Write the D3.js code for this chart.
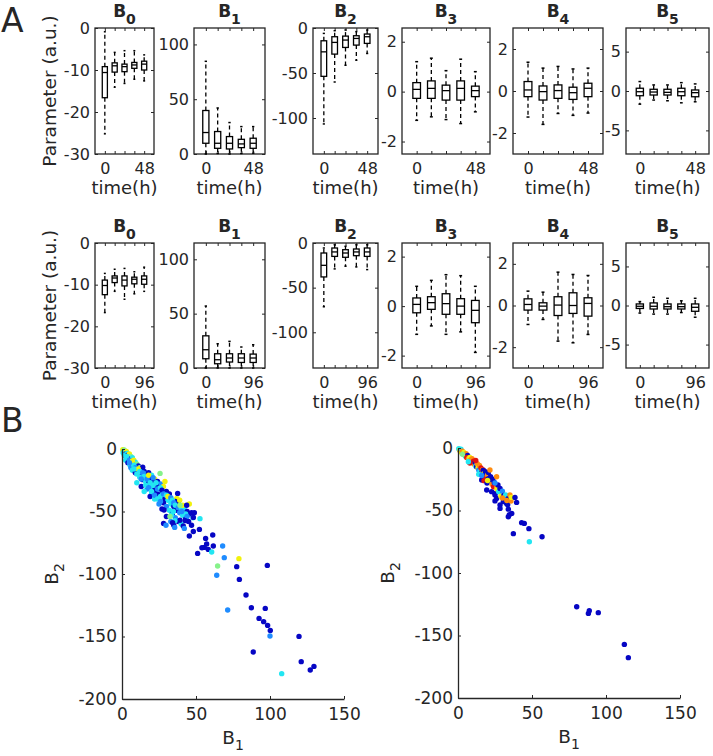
<!DOCTYPE html>
<html>
<head>
<meta charset="utf-8">
<script src="https://cdn.jsdelivr.net/npm/d3@7"></script>
<style>
  body { margin: 0; background: #fff; }
  text { font-family: "DejaVu Sans", sans-serif; fill: #262626; }
</style>
</head>
<body>
<svg id="fig" width="713" height="756"></svg>
<script>
// ---------- data ----------
var params = ["0", "1", "2", "3", "4", "5"];
var timeLabels48 = ["0", "", "", "", "48"];
var timeLabels96 = ["0", "", "", "", "96"];
var yDomains = [[-30, 0], [0, 115], [-140, 0], [-2.5, 2.55], [-3, 3], [-8, 8]];
var yTicks = [[-30, -20, -10, 0], [0, 50, 100], [-100, -50, 0], [-2, 0, 2], [-2, 0, 2], [-5, 0, 5]];

// box stats per parameter, 5 time points each: [low whisker, q1, median, q3, high whisker]
var boxes48 = [
  [[-25.2, -16.6, -10.6, -9.2, -0.9], [-14.1, -10.5, -9.0, -8.3, -5.8], [-13.2, -10.4, -9.2, -8.6, -5.4], [-12.2, -9.6, -8.8, -8.2, -5.4], [-12.6, -10, -8.6, -7.9, -6.4]],
  [[0, 9.8, 19.6, 39.7, 84.6], [0.5, 5.2, 9.8, 20.5, 42], [0, 4.6, 9.8, 15.9, 28.7], [0.5, 5.8, 9.2, 13.4, 25], [0.8, 5.2, 9.8, 14.4, 25]],
  [[-106.6, -53.7, -26.5, -14.2, -6], [-60, -29, -16, -9.7, -3], [-41.4, -21.6, -13.4, -9, -2.2], [-35.8, -19, -11.6, -8.6, -4], [-28.3, -17.1, -9.7, -6.7, -2.2]],
  [[-1.15, -0.27, 0.09, 0.36, 1.2], [-1.01, -0.27, 0.13, 0.43, 1.34], [-1.12, -0.34, 0.04, 0.26, 0.84], [-1.28, -0.34, 0.13, 0.43, 1.3], [-0.81, -0.2, 0.04, 0.22, 0.8]],
  [[-1.24, -0.27, 0.05, 0.45, 1.37], [-1.59, -0.43, -0.03, 0.24, 1.09], [-1.07, -0.35, 0.02, 0.29, 1.17], [-1.16, -0.4, -0.08, 0.18, 1.05], [-1.05, -0.27, 0.13, 0.37, 1.09]],
  [[-1.67, -0.6, -0.09, 0.35, 1.2], [-1.15, -0.51, -0.13, 0.22, 0.77], [-1.24, -0.51, -0.17, 0.22, 0.77], [-1.5, -0.6, -0.09, 0.35, 1.06], [-1.37, -0.73, -0.21, 0.13, 0.9]]
];
var boxes96 = [
  [[-16.7, -12.4, -10.2, -8.9, -7.3], [-11.6, -9.5, -8.4, -7.9, -6.3], [-13.5, -10.3, -8.9, -7.9, -6.1], [-12.2, -9.8, -8.7, -8.2, -6.9], [-11.6, -9.9, -8.7, -7.9, -5.8]],
  [[0, 8.5, 16.8, 29.6, 57], [0, 3.9, 7.6, 13.1, 22.3], [0, 5.5, 9.2, 13.1, 24.5], [0, 5.1, 9.2, 13.1, 19.3], [0, 5.1, 9.2, 12.8, 21.4]],
  [[-71.4, -38, -25, -11.2, -5.6], [-29, -15, -10, -5.6, -1.9], [-26, -16, -11.2, -7.5, -3.7], [-26.8, -14.2, -10, -6.7, -1.9], [-29.8, -15, -10, -5.6, -1.9]],
  [[-1.14, -0.27, 0.07, 0.33, 0.8], [-0.8, -0.13, 0.14, 0.38, 1.04], [-1.14, -0.33, 0.1, 0.5, 1.27], [-1.04, -0.33, 0, 0.3, 1.23], [-1.87, -0.67, -0.17, 0.23, 0.8]],
  [[-0.91, -0.22, 0.05, 0.32, 0.69], [-0.67, -0.22, -0.03, 0.13, 0.64], [-1.71, -0.48, 0.02, 0.42, 1.6], [-1.79, -0.38, 0, 0.61, 1.49], [-1.39, -0.51, 0.1, 0.37, 1.44]],
  [[-0.97, -0.38, -0.1, 0.2, 0.5], [-1.1, -0.45, -0.1, 0.33, 1.05], [-1.1, -0.45, -0.15, 0.2, 0.92], [-0.9, -0.45, -0.15, 0.2, 0.6], [-1.5, -0.74, -0.23, 0.2, 0.92]]
];

// scatter B1 vs B2: [B1, B2, colour class]
var scatterLeft = [
  [0.5,-0.5,4],[1,-1.5,4],[1.5,-0.8,3],[2,-2.5,2],[0.8,-3,2],[3,-2,4],[2.5,-4,0],[3.5,-3.5,2],[1.5,-5,2],[4,-5,0],
  [5,-4,4],[4.5,-6.5,2],[3,-7,0],[6,-6,3],[5.5,-8,0],[7,-7,2],[2.5,-9,2],[6.5,-10,0],[8,-9,4],[4,-11,0],
  [9,-10.5,2],[7.5,-12,0],[5.5,-13,2],[10,-12,3],[11,-13.5,0],[8.5,-14,0],[6,-15,1],[12,-15,3],[10,-16,0],[13,-16.5,2],
  [14,-14.5,0],[7,-17,2],[11.5,-18,0],[9,-19,0],[15,-18,0],[16,-20,1],[13.5,-21,0],[25.7,-19.5,3],[18,-19,0],[20,-21,2],
  [17,-22,0],[12,-22.5,2],[19,-24,0],[14,-24.5,0],[22,-24,4],[21,-26,0],[16,-26,2],[24,-26,0],[18,-27.5,0],[10,-27,2],
  [26,-28,1],[23,-29,0],[13,-30,0],[20,-30,2],[28,-30,4],[25,-31,0],[17,-32,1],[29,-26,4],[22,-33,0],[30,-34,0],
  [15,-34,2],[27,-35,2],[24,-36,0],[20,-36,2],[32,-36,0],[19,-38,0],[26,-38,2],[37,-39.5,4],[29,-40,0],[22,-40,2],
  [31,-41,2],[36,-42,0],[28,-43,0],[25,-44,1],[33,-44,2],[38,-43,0],[30,-46,1],[35,-46,0],[39,-41,4],[27,-48,0],
  [32,-49,2],[37,-49,0],[42,-48,2],[44,-50,0],[39,-51,1],[34,-52,0],[46,-52,0],[41,-53,2],[30,-54,0],[36,-55,1],
  [43,-56,0],[48,-55,2],[38,-58,0],[33,-58,1],[45,-58,0],[40,-60,2],[35,-61,0],[47,-61,0],
  [3,-6,2],[5,-9,1],[7,-9.5,4],[8,-13,2],[9,-15,1],[11,-16,4],[12,-18,2],[14,-19,1],[15,-22,2],[17,-24,1],
  [18,-21,4],[19,-27,2],[21,-23,1],[21,-29,2],[23,-27,2],[24,-32,1],[26,-31,2],[27,-33,0],[28,-36,1],[30,-37,2],
  [31,-38,4],[33,-39,1],[34,-41,2],[35,-43,1],[36,-45,2],[38,-47,1],[40,-47,2],[41,-45,4],[43,-52,2],[44,-54,1],
  [10,-20,2],[13,-24,1],[16,-29,2],[18,-31,1],[20,-34,2],[22,-37,1],[24,-40,2],[26,-42,1],[5,-11,1],[8,-16,2],
  [37.6,-35.5,0],[45.5,-44,4],[43.7,-45,0],[39.2,-45,3],[28.4,-48.8,0],[34.7,-50,2],[33.5,-52.8,2],[40.3,-50,1],
  [47,-51,0],[48.9,-51,0],[48.2,-54.7,0],[52.7,-55.7,2],[42.8,-57.3,0],[39.2,-57,0],[35.8,-57.3,2],[32.4,-54,3],
  [34.2,-59,0],[28.1,-59.5,0],[29.7,-61,1],[35.6,-62.7,1],[41.4,-61.6,0],[42.1,-63.5,1],[45.5,-69.6,0],[48.2,-66,0],
  [52.3,-64.3,0],[56.5,-71.5,0],[61.3,-68.8,0],[68,-77.6,1],[61.7,-77.6,0],[57.2,-76,0],[55.6,-78.7,0],[54,-79,0],
  [58.3,-80.3,0],[60.6,-82.4,2],[51.1,-83.5,0],[69.1,-86.9,1],[79,-87.7,4],[64.6,-93.6,3],[77.5,-94.1,0],[98.2,-93.1,0],
  [64,-101,1],[79.3,-104.3,0],[83.8,-116.8,0],[87.4,-127,0],[96.8,-127.5,0],[71.4,-128.8,1],[92.6,-135.5,0],[95.7,-138.1,0],
  [98.4,-141.1,0],[100.2,-145.1,0],[100,-149.6,1],[119.6,-149.9,0],[88.7,-162.4,0],[121.1,-170.1,0],[129.7,-173.9,0],
  [127.2,-176.8,0],[107.9,-179.7,2]
];
var scatterRight = [
  [0.5,-0.5,2],[1,-1.5,3],[1.5,-2.5,5],[2,-1,2],[2.5,-3.5,4],[3,-2.5,5],[3.5,-4.5,6],[4,-3.5,4],[4.5,-5.5,5],[5,-6.5,2],
  [5.5,-4.5,5],[6,-7.5,4],[6.5,-6,0],[5.9,-7.5,6],[7,-8.5,5],[7.5,-10,2],[8,-7.5,4],[8.5,-9.5,5],[9,-11,0],[9.5,-8.5,5],
  [10,-12,4],[10.5,-10.5,6],[11,-13,5],[11.5,-11.5,0],[12,-14.5,2],[12.6,-14.9,0],[13,-12.5,5],[13.5,-16,4],[14,-17.5,1],[14.5,-14,5],
  [15,-18.5,2],[15.5,-16,6],[16,-19.5,0],[16,-25.6,0],[16.5,-17.5,5],[17.1,-17.6,6],[17,-18,0],[17.5,-20.5,4],[18,-22,2],[18.2,-22,0],
  [18.5,-19,0],[19,-23.5,6],[17.6,-26.1,6],[19.4,-33.6,0],[19.6,-28,0],[20,-21.5,5],[20.5,-19.5,0],[20.5,-24.5,0],[21,-26,2],[21.6,-17.6,5],
  [22,-23,0],[22.7,-34.9,0],[22.8,-27,0],[23,-29,5],[23.5,-25,0],[24,-31,6],[24.5,-27.5,0],[25,-42.3,0],[25,-36.3,0],[25,-37.6,0],
  [26.1,-23,5],[26.1,-31.7,5],[26.1,-40.3,0],[26.5,-33,4],[27,-29.5,0],[27.5,-35,2],[28.4,-32.3,0],[28.4,-45.6,0],[28.4,-48.3,0],[29,-38.5,4],
  [30,-34.5,1],[30.6,-42.9,0],[31,-38,0],[32.2,-37.6,2],[32.9,-44.5,0],[33.6,-45.3,0],[34,-40.3,0],[34,-48.9,0],[34,-55,0],[34.7,-53.4,0],
  [35.1,-37.6,5],[35.8,-42.4,5],[36,-39.5,4],[36.3,-52.3,0],[37.4,-68.5,0],[38.5,-39.5,0],[39.6,-43.5,0],[43,-59.7,0],[44.8,-60.3,0],[47.9,-64.5,0],
  [48.2,-75,2],[56.8,-71,0],[80.2,-127,0],[88.7,-130.1,0],[88.1,-132.3,0],[94.8,-131.7,0],[112.4,-157.1,0],[115.1,-167.7,0],
  [3,-5,3],[8,-12,6],[12,-10,6],[20,-26,4],[30,-40,5],[33,-42,5],[14,-21,2],[7,-11,2],[16,-22,1],[25,-28,1]
];

// ---------- layout / style ----------
var colLeft = [95, 194, 313, 402, 513, 626];
var colRight = [154, 265, 378, 490, 603, 709];
var rowTop = [28, 243];
var rowBottom = [154, 368];
var jet = ["#0606c4", "#1f8cff", "#22e6f2", "#86f28a", "#f2f20c", "#ff8c10", "#e21212"];
var axisColor = "#262626";
var plain = function (d) { return String(d); };  // hyphen minus like the original

var svg = d3.select("#fig");
svg.append("rect").attr("width", 713).attr("height", 756).attr("fill", "#fff");

function styleAxis(g, fs) {
  g.select(".domain").remove();
  g.selectAll(".tick line").attr("stroke", axisColor).attr("stroke-width", 1);
  g.selectAll(".tick text").attr("font-size", fs).attr("fill", axisColor)
    .attr("font-family", "DejaVu Sans, sans-serif");
}

function boxPanel(row, k, stats, xLabels) {
  var x = d3.scaleLinear().domain([0, 6]).range([colLeft[k], colRight[k]]);
  var y = d3.scaleLinear().domain(yDomains[k]).range([rowBottom[row], rowTop[row]]);
  var g = svg.append("g");

  g.append("g").attr("transform", "translate(" + colLeft[k] + ",0)")
    .call(d3.axisLeft(y).tickValues(yTicks[k]).tickSize(-3).tickPadding(5).tickFormat(plain))
    .call(styleAxis, 16);
  g.append("g").attr("transform", "translate(" + colRight[k] + ",0)")
    .call(d3.axisRight(y).tickValues(yTicks[k]).tickSize(-3).tickFormat(""))
    .call(styleAxis, 16);
  g.append("g").attr("transform", "translate(0," + rowBottom[row] + ")")
    .call(d3.axisBottom(x).tickValues([1, 2, 3, 4, 5]).tickSize(-3).tickPadding(9)
      .tickFormat(function (d, i) { return xLabels[i]; }))
    .call(styleAxis, 16);
  g.append("g").attr("transform", "translate(0," + rowTop[row] + ")")
    .call(d3.axisTop(x).tickValues([1, 2, 3, 4, 5]).tickSize(-3).tickFormat(""))
    .call(styleAxis, 16);

  g.append("rect")
    .attr("x", colLeft[k]).attr("y", rowTop[row])
    .attr("width", colRight[k] - colLeft[k]).attr("height", rowBottom[row] - rowTop[row])
    .attr("fill", "none").attr("stroke", axisColor).attr("stroke-width", 1.3);

  var bw = 0.26, cw = 0.1;
  var b = g.selectAll("g.box").data(stats).enter().append("g").attr("class", "box");
  // whiskers
  b.append("line")
    .attr("x1", function (d, i) { return x(i + 1); }).attr("x2", function (d, i) { return x(i + 1); })
    .attr("y1", function (d) { return y(d[3]); }).attr("y2", function (d) { return y(d[4]); })
    .attr("stroke", "#000").attr("stroke-width", 1.3).attr("stroke-dasharray", "4,3");
  b.append("line")
    .attr("x1", function (d, i) { return x(i + 1); }).attr("x2", function (d, i) { return x(i + 1); })
    .attr("y1", function (d) { return y(d[1]); }).attr("y2", function (d) { return y(d[0]); })
    .attr("stroke", "#000").attr("stroke-width", 1.3).attr("stroke-dasharray", "4,3");
  // caps
  [0, 4].forEach(function (j) {
    b.append("line")
      .attr("x1", function (d, i) { return x(i + 1 - cw); }).attr("x2", function (d, i) { return x(i + 1 + cw); })
      .attr("y1", function (d) { return y(d[j]); }).attr("y2", function (d) { return y(d[j]); })
      .attr("stroke", "#000").attr("stroke-width", 1.5);
  });
  // box
  b.append("rect")
    .attr("x", function (d, i) { return x(i + 1 - bw); })
    .attr("width", x(1 + bw) - x(1 - bw))
    .attr("y", function (d) { return y(d[3]); })
    .attr("height", function (d) { return y(d[1]) - y(d[3]); })
    .attr("fill", "none").attr("stroke", "#000").attr("stroke-width", 1.3);
  // median
  b.append("line")
    .attr("x1", function (d, i) { return x(i + 1 - bw); }).attr("x2", function (d, i) { return x(i + 1 + bw); })
    .attr("y1", function (d) { return y(d[2]); }).attr("y2", function (d) { return y(d[2]); })
    .attr("stroke", "#000").attr("stroke-width", 1.3);

  // title
  var cx = (colLeft[k] + colRight[k]) / 2;
  var t = g.append("text").attr("x", cx).attr("y", rowTop[row] - 11)
    .attr("text-anchor", "middle").attr("font-weight", "bold").attr("font-size", 17).attr("fill", "#000");
  t.append("tspan").text("B");
  t.append("tspan").attr("dy", 6.5).attr("font-size", 14).text(params[k]);

  // x label
  g.append("text").attr("x", cx).attr("y", rowBottom[row] + 40)
    .attr("text-anchor", "middle").attr("font-size", 18).text("time(h)");
}

for (var k = 0; k < 6; k++) {
  boxPanel(0, k, boxes48[k], timeLabels48);
  boxPanel(1, k, boxes96[k], timeLabels96);
}
[0, 1].forEach(function (row) {
  var cy = (rowTop[row] + rowBottom[row]) / 2;
  svg.append("text").attr("transform", "translate(56," + cy + ") rotate(-90)")
    .attr("text-anchor", "middle").attr("font-size", 18.5).text("Parameter (a.u.)");
});

// ---------- scatter panels ----------
function scatterPanel(data, left, top) {
  var x = d3.scaleLinear().domain([0, 150]).range([left, left + 222]);
  var y = d3.scaleLinear().domain([-200, 0]).range([top + 250, top]);
  var g = svg.append("g");

  g.selectAll("circle").data(data).enter().append("circle")
    .attr("cx", function (d) { return x(d[0]); })
    .attr("cy", function (d) { return y(d[1]); })
    .attr("r", 2.7)
    .attr("fill", function (d) { return jet[d[2]]; });

  var ax = g.append("g").attr("transform", "translate(" + left + ",0)")
    .call(d3.axisLeft(y).tickValues([0, -50, -100, -150, -200]).tickSize(-3).tickSizeOuter(0)
      .tickPadding(5).tickFormat(plain));
  var bx = g.append("g").attr("transform", "translate(0," + (top + 250) + ")")
    .call(d3.axisBottom(x).tickValues([0, 50, 100, 150]).tickSize(-3).tickSizeOuter(0)
      .tickPadding(9).tickFormat(plain));
  [ax, bx].forEach(function (a) {
    a.select(".domain").attr("stroke", axisColor).attr("stroke-width", 1.3);
    a.selectAll(".tick line").attr("stroke", axisColor);
    a.selectAll(".tick text").attr("font-size", 17).attr("fill", axisColor)
      .attr("font-family", "DejaVu Sans, sans-serif");
  });

  var xl = g.append("text").attr("x", left + 111).attr("y", top + 295)
    .attr("text-anchor", "middle").attr("font-size", 18.5);
  xl.append("tspan").text("B");
  xl.append("tspan").attr("dy", 6).attr("font-size", 14).text("1");

  var yl = g.append("text").attr("transform", "translate(" + (left - 64) + "," + (top + 125) + ") rotate(-90)")
    .attr("text-anchor", "middle").attr("font-size", 18.5);
  yl.append("tspan").text("B");
  yl.append("tspan").attr("dy", 6).attr("font-size", 14).text("2");
}

scatterPanel(scatterLeft, 122, 449);
scatterPanel(scatterRight, 458, 448);

// panel letters
svg.append("text").attr("x", 1).attr("y", 32).attr("font-size", 33).attr("fill", "#000").text("A");
svg.append("text").attr("x", 1).attr("y", 432).attr("font-size", 33).attr("fill", "#000").text("B");
</script>
</body>
</html>
